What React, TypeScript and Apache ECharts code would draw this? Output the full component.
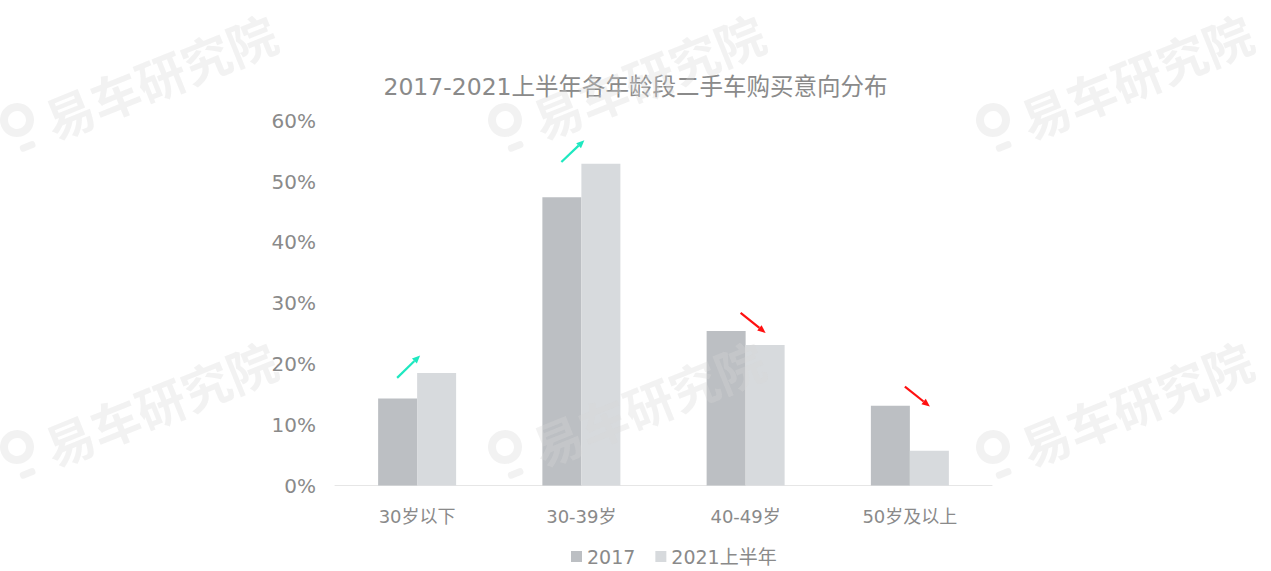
import React, { useEffect, useRef } from "react";
import * as echarts from "echarts";

const categories = ["30岁以下", "30-39岁", "40-49岁", "50岁及以上"];
const series2017 = [14.3, 47.4, 25.4, 13.1];
const series2021H1 = [18.5, 52.9, 23.1, 5.7];
const seriesNames = ["2017", "2021上半年"];
const yTicks = [0, 10, 20, 30, 40, 50, 60];
// trend arrows: [category index, start value %, end value %]
const trendArrows = [
  [0, 17.7, 21.4],
  [1, 53.2, 56.8],
  [2, 28.4, 25.1],
  [3, 16.25, 13.0],
];
const titleText = "2017-2021上半年各年龄段二手车购买意向分布";
const watermarkText = "易车研究院";
const watermarkAnchors = [
  [17, 120],
  [505, 120],
  [993, 120],
  [17, 447],
  [505, 447],
  [993, 447],
];

const FONT = "'DejaVu Sans', 'Noto Sans CJK SC', sans-serif";
const TEXT_COLOR = "#8a8a8a";

export default function App() {
  const ref = useRef<HTMLDivElement>(null);
  useEffect(() => {
    if (!ref.current) return;
    const chart = echarts.init(ref.current, undefined, { renderer: "svg" });
    const wmFill = "#d6d6d6";
    const wmOpacity = 0.32;
    const rot = (22 * Math.PI) / 180;
    const graphics = watermarkAnchors.map(([x, y]) => ({
      type: "group",
      x,
      y,
      rotation: rot,
      z: 100,
      silent: true,
      children: [
        {
          type: "ring",
          shape: { cx: 0, cy: 0, r: 17, r0: 9 },
          style: { fill: wmFill, opacity: wmOpacity },
          z: 100,
        },
        {
          type: "rect",
          shape: { x: -8, y: 25, width: 16, height: 7, r: 3 },
          style: { fill: wmFill, opacity: wmOpacity },
          z: 100,
        },
        {
          type: "text",
          x: 27,
          y: 12,
          style: {
            text: watermarkText,
            fill: wmFill,
            opacity: wmOpacity,
            fontSize: 49,
            fontWeight: "bold",
            fontFamily: "'Noto Sans CJK SC', sans-serif",
            verticalAlign: "middle",
            align: "left",
          },
          z: 100,
        },
      ],
    }));

    chart.setOption({
      animation: false,
      backgroundColor: "#ffffff",
      title: {
        text: titleText,
        left: "center",
        top: 70,
        textStyle: {
          fontSize: 23.5,
          fontWeight: "normal",
          color: TEXT_COLOR,
          fontFamily: FONT,
        },
      },
      legend: {
        data: seriesNames,
        left: 566,
        top: 542,
        icon: "rect",
        itemWidth: 11,
        itemHeight: 11,
        itemGap: 20,
        textStyle: { fontSize: 19, color: TEXT_COLOR, fontFamily: FONT },
      },
      grid: { left: 335, right: 279, top: 120.7, bottom: 85.5, containLabel: false },
      xAxis: {
        type: "category",
        data: categories,
        axisLine: { lineStyle: { color: "#e6e6e6", width: 1 } },
        axisTick: { show: false },
        axisLabel: { fontSize: 18, color: TEXT_COLOR, fontFamily: FONT, margin: 22 },
      },
      yAxis: {
        type: "value",
        min: yTicks[0],
        max: yTicks[yTicks.length - 1],
        interval: 10,
        splitLine: { show: false },
        axisLine: { show: false },
        axisTick: { show: false },
        axisLabel: {
          formatter: "{value}%",
          fontSize: 20,
          color: TEXT_COLOR,
          fontFamily: FONT,
          margin: 19,
        },
      },
      series: [
        {
          name: seriesNames[0],
          type: "bar",
          data: series2017,
          barWidth: 39,
          barGap: "0%",
          itemStyle: { color: "#bcbfc3" },
        },
        {
          name: seriesNames[1],
          type: "bar",
          data: series2021H1,
          barWidth: 39,
          barGap: "0%",
          itemStyle: { color: "#d7dadd" },
        },
        {
          type: "custom",
          name: "trend",
          data: trendArrows,
          z: 10,
          silent: true,
          renderItem: (params: any, api: any) => {
            const cat = api.value(0);
            const v0 = api.value(1);
            const v1 = api.value(2);
            const rising = v1 > v0;
            const p0 = api.coord([cat, v0]);
            const p1 = api.coord([cat, v1]);
            const x0 = p0[0] + (rising ? -20 : -5);
            const x1 = p1[0] + (rising ? 3 : 20);
            const y0 = p0[1];
            const y1 = p1[1];
            const color = rising ? "#1ee8c0" : "#ff1010";
            const dx = x1 - x0;
            const dy = y1 - y0;
            const len = Math.sqrt(dx * dx + dy * dy);
            const ux = dx / len;
            const uy = dy / len;
            const headLen = 8;
            const headW = 3.5;
            const bx = x1 - ux * headLen;
            const by = y1 - uy * headLen;
            return {
              type: "group",
              children: [
                {
                  type: "line",
                  shape: { x1: x0, y1: y0, x2: bx, y2: by },
                  style: { stroke: color, lineWidth: 2.2 },
                },
                {
                  type: "polygon",
                  shape: {
                    points: [
                      [x1, y1],
                      [bx - uy * headW, by + ux * headW],
                      [bx + uy * headW, by - ux * headW],
                    ],
                  },
                  style: { fill: color },
                },
              ],
            };
          },
        },
      ],
      graphic: graphics,
    });
    return () => chart.dispose();
  }, []);
  return (
    <div
      ref={ref}
      style={{ position: "fixed", left: 0, top: 0, width: 1271, height: 571 }}
    />
  );
}
